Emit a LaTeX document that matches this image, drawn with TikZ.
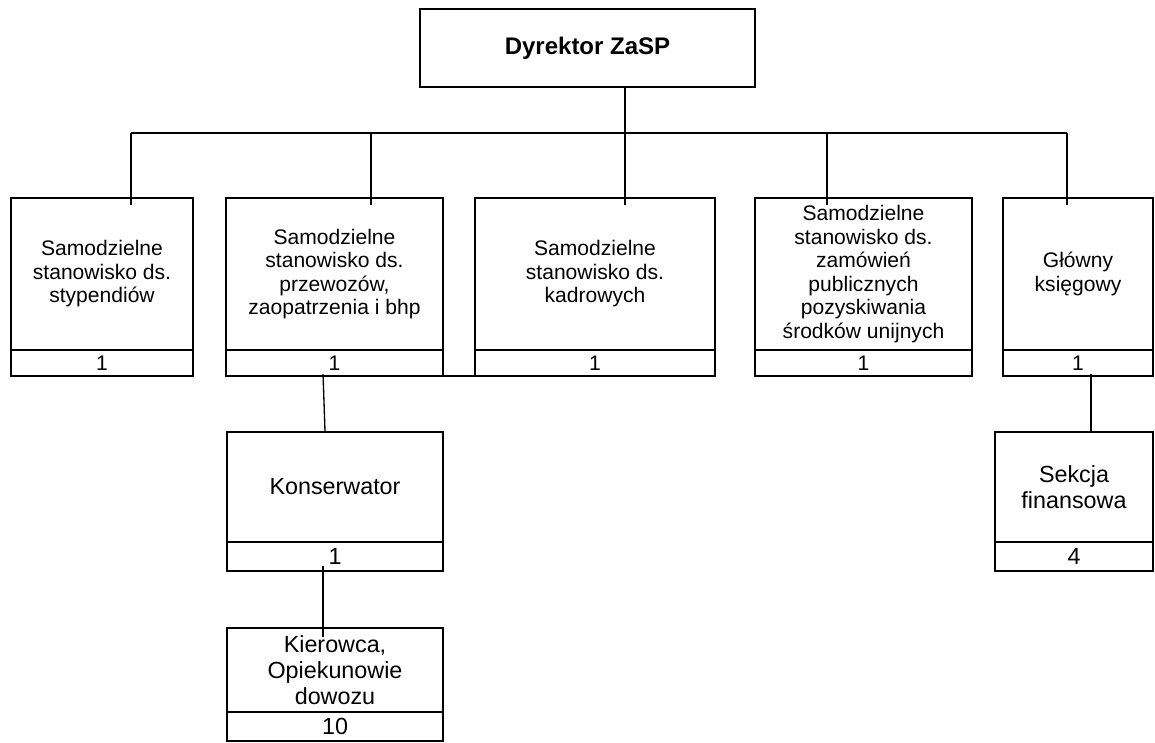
\documentclass[tikz,border=0pt]{standalone}
\usepackage{fontspec}
\setmainfont{Liberation Sans}

\tikzset{
  ramka/.style={draw, line width=1.6pt, rectangle, inner sep=0pt, align=center},
  maly/.style={ramka, font=\fontsize{15.8}{17.6}\selectfont},
  duzy/.style={ramka, font=\fontsize{17.5}{19.5}\selectfont},
  linia/.style={line width=1pt},
  szyna/.style={line width=1.4pt}
}

\begin{document}
\begin{tikzpicture}[x=0.75pt,y=-0.75pt]
\useasboundingbox (0,0) rectangle (1155,742);

% dyrektor
\node[ramka, font=\fontsize{18}{20}\selectfont\bfseries, minimum width=251.25pt, minimum height=58.5pt] (dyr) at (587.5,48) {Dyrektor ZaSP};

% stanowiska
\node[maly, minimum width=136.5pt, minimum height=114pt] (st1) at (102,274) {Samodzielne\\stanowisko ds.\\stypendiów};
\node[maly, minimum width=136.5pt, minimum height=19.5pt] (l1) at (102,363) {1};
\node[maly, minimum width=162.75pt, minimum height=114pt] (st2) at (334.5,274) {Samodzielne\\stanowisko ds.\\przewozów,\\zaopatrzenia i bhp};
\node[maly, minimum width=162.75pt, minimum height=19.5pt] (l2) at (334.5,363) {1};
\node[maly, minimum width=180pt, minimum height=114pt] (st3) at (595,274) {Samodzielne\\stanowisko ds.\\kadrowych};
\node[maly, minimum width=180pt, minimum height=19.5pt] (l3) at (595,363) {1};
\node[maly, minimum width=162.75pt, minimum height=114pt] (st4) at (863.5,274) {Samodzielne\\stanowisko ds.\\zamówień\\publicznych\\pozyskiwania\\środków unijnych};
\node[maly, minimum width=162.75pt, minimum height=19.5pt] (l4) at (863.5,363) {1};
\node[maly, minimum width=112.5pt, minimum height=114pt] (st5) at (1078,274) {Główny\\księgowy};
\node[maly, minimum width=112.5pt, minimum height=19.5pt] (l5) at (1078,363) {1};

% nizszy poziom
\node[duzy, minimum width=162pt, minimum height=82.5pt] (kons) at (335,487) {Konserwator};
\node[duzy, minimum width=162pt, minimum height=21.75pt] (lk) at (335,556.5) {1};
\node[duzy, minimum width=162pt, minimum height=63pt] (kier) at (335,670) {Kierowca,\\Opiekunowie\\dowozu};
\node[duzy, minimum width=162pt, minimum height=21.75pt] (lkr) at (335,726.5) {10};
\node[duzy, minimum width=118.5pt, minimum height=82.5pt] (sekc) at (1074,487) {Sekcja\\finansowa};
\node[duzy, minimum width=118.5pt, minimum height=21.75pt] (ls) at (1074,556.5) {4};

% szyna
\coordinate (b1) at (131,133);
\coordinate (b2) at (371,133);
\coordinate (b3) at (625,133);
\coordinate (b4) at (827,133);
\coordinate (b5) at (1067,133);
\draw[linia] (b3 |- dyr.south) -- (b3);
\draw[szyna] (b1) -- (b5);
\foreach \i in {1,...,5}
  \draw[linia] (b\i) -- ([yshift=-6pt]b\i |- st\i.north);

\draw[line width=1.6pt] ([yshift=0.8pt]l2.south east) -- ([yshift=0.8pt]l2.south east -| st3.west);

\draw[linia] ([xshift=-8.6pt,yshift=2.25pt]l2.south) -- ([xshift=-7.5pt]kons.north);
\draw[linia] ([xshift=-9pt,yshift=-7pt]lk.center) -- ([xshift=-9pt,yshift=-7.5pt]kier.north);
\draw[linia] ([xshift=9.75pt,yshift=2.25pt]l5.south) -- ([xshift=12.75pt]sekc.north);
\end{tikzpicture}
\end{document}
